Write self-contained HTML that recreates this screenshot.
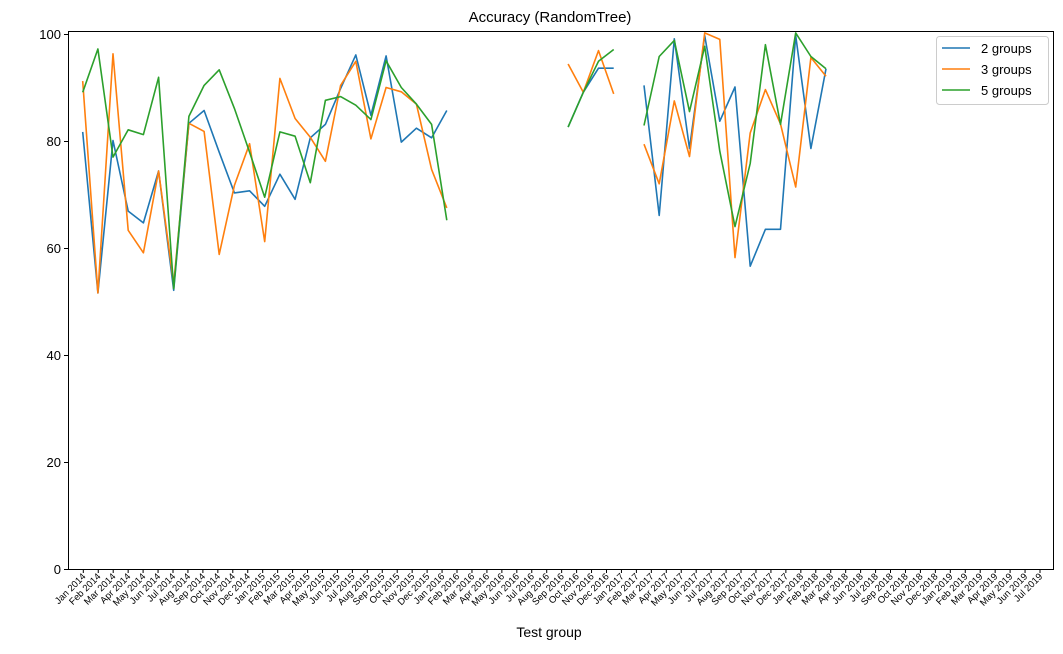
<!DOCTYPE html>
<html><head><meta charset="utf-8"><style>
body{margin:0;background:#fff;}
svg text{font-family:"Liberation Sans","DejaVu Sans",sans-serif;}
</style></head><body>
<svg id="chart" width="1063" height="649" xmlns="http://www.w3.org/2000/svg">
<text x="550" y="22" font-size="15" text-anchor="middle">Accuracy (RandomTree)</text>
<text x="549" y="637" font-size="14" text-anchor="middle">Test group</text>
<g id="plot"></g>
<rect x="68.5" y="31.5" width="985" height="538" fill="none" stroke="#000" stroke-width="1"/>
<g>
<rect x="936.5" y="36.5" width="112" height="68" fill="#fff" stroke="#ccc" rx="3"/>
<g id="legend"></g>
</g>
</svg>
<script>
const tickLabels=["Jan 2014","Feb 2014","Mar 2014","Apr 2014","May 2014","Jun 2014","Jul 2014","Aug 2014","Sep 2014","Oct 2014","Nov 2014","Dec 2014","Jan 2015","Feb 2015","Mar 2015","Apr 2015","May 2015","Jun 2015","Jul 2015","Aug 2015","Sep 2015","Oct 2015","Nov 2015","Dec 2015","Jan 2016","Feb 2016","Mar 2016","Apr 2016","May 2016","Jun 2016","Jul 2016","Aug 2016","Sep 2016","Oct 2016","Nov 2016","Dec 2016","Jan 2017","Feb 2017","Mar 2017","Apr 2017","May 2017","Jun 2017","Jul 2017","Aug 2017","Sep 2017","Oct 2017","Nov 2017","Dec 2017","Jan 2018","Feb 2018","Mar 2018","Apr 2018","Jun 2018","Jul 2018","Sep 2018","Oct 2018","Nov 2018","Dec 2018","Jan 2019","Feb 2019","Mar 2019","Apr 2019","May 2019","Jun 2019","Jul 2019"];
const yTicks=[0,20,40,60,80,100];
const seriesNames=["2 groups","3 groups","5 groups"];
const s2seg1=[81.7,51.6,80.1,66.9,64.7,74.4,52.1,83.3,85.7,77.9,70.3,70.7,67.8,73.8,69.1,80.6,83.1,89.8,96.1,84.8,95.9,79.8,82.4,80.6,85.7];
const s3seg1=[91.2,51.6,96.3,63.3,59.1,74.4,53.3,83.3,81.8,58.8,71.7,79.5,61.2,91.7,84.2,80.7,76.2,90.4,94.9,80.4,90.0,89.2,86.9,74.7,67.5];
const s5seg1=[89.1,97.2,77.0,82.1,81.2,91.9,52.4,84.6,90.4,93.3,86.1,77.9,69.5,81.7,80.9,72.2,87.6,88.3,86.7,84.0,95.0,90.0,86.9,83.1,65.2];
const s2seg2=[82.6,89.1,93.6,93.6];
const s3seg2=[94.4,89.1,96.9,88.8];
const s5seg2=[82.6,89.1,94.9,97.1];
const s2seg3=[90.4,66.1,99.1,78.6,99.7,83.7,90.1,56.6,63.5,63.5,99.7,78.6,93.5];
const s3seg3=[79.4,72.0,87.5,77.1,100.2,99.0,58.2,81.5,89.6,83.2,71.4,95.6,92.1];
const s5seg3=[82.9,95.8,98.8,85.5,97.7,78.1,64.0,75.8,98.0,83.1,100.2,95.8,93.5];
const segStart=[0,32,37];
const colors=["#1f77b4","#ff7f0e","#2ca02c"];
const NS="http://www.w3.org/2000/svg";
const plot=document.getElementById('plot');
const xData=i=>82.7+i*15.17;
const xTick=i=>83.3+i*(1040-83.3)/(tickLabels.length-1);
const y=v=>569-v*5.35;
function mk(t,a){const e=document.createElementNS(NS,t);for(const k in a)e.setAttribute(k,a[k]);return e;}
yTicks.forEach(v=>{
  const l=mk('line',{x1:64,x2:68,y1:y(v)+0.5,y2:y(v)+0.5,stroke:'#000'});
  
  
  plot.appendChild(l);
  const t=mk('text',{x:61,y:y(v)+5,'font-size':13,'text-anchor':'end'});
  
  
  t.textContent=v;plot.appendChild(t);
});
tickLabels.forEach((s,i)=>{
  const x=xTick(i);
  const l=mk('line',{x1:x,x2:x,y1:569,y2:573,stroke:'#000'});
  
  
  plot.appendChild(l);
  const t=mk('text',{x:x+3,y:577,'font-size':9.5,'text-anchor':'end',transform:`rotate(-45 ${x+3} 577)`});
  
  
  t.textContent=s;plot.appendChild(t);
});
const all=[[s2seg1,s2seg2,s2seg3],[s3seg1,s3seg2,s3seg3],[s5seg1,s5seg2,s5seg3]];
all.forEach((segs,si)=>{
  segs.forEach((seg,k)=>{
    const pts=seg.map((v,j)=>xData(segStart[k]+j).toFixed(1)+','+y(v).toFixed(1)).join(' ');
    const p=mk('polyline',{points:pts,fill:'none',stroke:colors[si],'stroke-width':1.6,'stroke-linejoin':'round'});
    
    
    plot.appendChild(p);
  });
});
const lg=document.getElementById('legend');
seriesNames.forEach((n,i)=>{
  const yy=48+i*21;
  const l=mk('line',{x1:942,x2:970,y1:yy,y2:yy,stroke:colors[i],'stroke-width':1.6});
  
  
  lg.appendChild(l);
  const t=mk('text',{x:981,y:yy+5,'font-size':13});
  
  
  t.textContent=n;lg.appendChild(t);
});
</script>
</body></html>
